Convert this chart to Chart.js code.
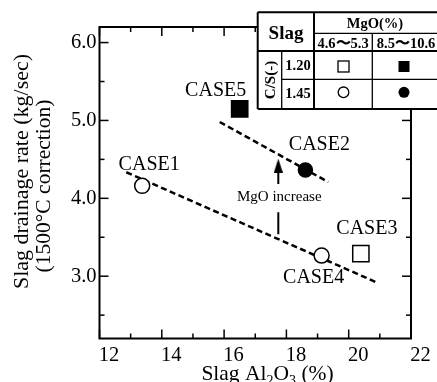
<!DOCTYPE html>
<html><head><meta charset="utf-8">
<script src="https://cdn.jsdelivr.net/npm/chart.js@4/dist/chart.umd.min.js"></script>
<style>html,body{margin:0;padding:0;background:#fff}#wrap{width:437px;height:382px;position:relative}</style>
</head><body><div id="wrap"><canvas id="c" width="437" height="382"></canvas></div>
<script>
// ---- data ----
const caseNames = ['CASE1', 'CASE2', 'CASE3', 'CASE4', 'CASE5'];
const al2o3 = [13.37, 18.61, 20.39, 19.13, 16.50];       // Slag Al2O3 (%)
const drainRate = [4.16, 4.365, 3.29, 3.265, 5.15];     // kg/sec
const caseMarker = ['openCircle', 'filledCircle', 'openSquare', 'openCircle', 'filledSquare'];
const lowerTrendX = [12.86, 20.9];
const lowerTrendY = [4.335, 2.92];
const upperTrendX = [15.86, 19.34];
const upperTrendY = [4.98, 4.21];
const arrowX = 17.74;
const arrowLowerY = [3.54, 3.82];
const arrowUpperY = [4.185, 4.38];
const arrowHeadY = 4.42;
const xTicks = [12, 13, 14, 15, 16, 17, 18, 19, 20, 21, 22];
const yTicks = [2.5, 3.0, 3.5, 4.0, 4.5, 5.0, 5.5, 6.0];
const tableMgO = ['4.6\u301C5.3', '8.5\u301C10.6'];
const tableCS = ['1.20', '1.45'];

const SERIF = "'Liberation Serif', 'DejaVu Serif', serif";
Chart.defaults.font.family = SERIF;
Chart.defaults.color = '#000';

// arrowhead image
const ah = document.createElement('canvas'); ah.width = 9; ah.height = 14;
(function(){ const c = ah.getContext('2d'); c.fillStyle = '#000'; c.beginPath(); c.moveTo(4.5, 0); c.lineTo(9, 14); c.lineTo(0, 14); c.closePath(); c.fill(); })();

const markerStyle = {
  openCircle:   {pointStyle: 'circle', radius: 7.5, bg: '#fff'},
  filledCircle: {pointStyle: 'circle', radius: 7,   bg: '#000'},
  openSquare:   {pointStyle: 'rect',   radius: 11.5, bg: '#fff'},
  filledSquare: {pointStyle: 'rect',   radius: 11.5, bg: '#000'}
};
const pointSets = Object.keys(markerStyle).map(k => {
  const idx = caseNames.map((n, i) => i).filter(i => caseMarker[i] === k);
  const s = markerStyle[k];
  return {
    label: k, data: idx.map(i => ({x: al2o3[i], y: drainRate[i]})),
    showLine: false, pointStyle: s.pointStyle, pointRadius: s.radius,
    pointBackgroundColor: s.bg, pointBorderColor: '#000', pointBorderWidth: 1.5
  };
});
const lineDs = (xs, ys, dash, w) => ({
  data: xs.map((x, i) => ({x, y: ys[i]})), showLine: true, borderColor: '#000',
  borderWidth: w, borderDash: dash, pointRadius: 0, fill: false
});

const decor = {
  id: 'decor',
  afterDatasetsDraw(chart) {
    const ctx = chart.ctx, xs = chart.scales.x, ys = chart.scales.y;
    ctx.save();
    ctx.fillStyle = '#000';
    ctx.textAlign = 'center'; ctx.textBaseline = 'alphabetic';
    ctx.font = '20px ' + SERIF;
    const offs = [[7, -16], [14, -20], [6, -20], [-8, 27], [-24, -13]];
    caseNames.forEach((n, i) => {
      const px = xs.getPixelForValue(al2o3[i]), py = ys.getPixelForValue(drainRate[i]);
      ctx.fillText(n, px + offs[i][0], py + offs[i][1]);
    });
    ctx.font = '15px ' + SERIF;
    ctx.fillText('MgO increase', xs.getPixelForValue(arrowX) + 1, ys.getPixelForValue(4.0) + 3);
    ctx.restore();
  },
  afterDraw(chart) {
    const ctx = chart.ctx, a = chart.chartArea, xs = chart.scales.x, ys = chart.scales.y;
    ctx.save();
    ctx.strokeStyle = '#000';
    const line = (x1, y1, x2, y2) => { ctx.beginPath(); ctx.moveTo(x1, y1); ctx.lineTo(x2, y2); ctx.stroke(); };
    ctx.lineWidth = 1.5;
    xs.ticks.forEach(t => {
      const p = xs.getPixelForValue(t.value), L = (t.value % 2 === 0) ? 9 : 5;
      line(p, a.bottom, p, a.bottom - L); line(p, a.top, p, a.top + L);
    });
    ys.ticks.forEach(t => {
      const p = ys.getPixelForValue(t.value), L = Math.abs(t.value - Math.round(t.value)) < 1e-6 ? 9 : 5;
      line(a.left, p, a.left + L, p); line(a.right, p, a.right - L, p);
    });
    ctx.lineWidth = 2;
    ctx.strokeRect(a.left, a.top, a.right - a.left, a.bottom - a.top);

    // axis titles
    ctx.fillStyle = '#000';
    ctx.textBaseline = 'alphabetic';
    const big = '21.5px ' + SERIF, small = '14px ' + SERIF;
    const parts = [['Slag Al', big, 0], ['2', small, 5], ['O', big, 0], ['3', small, 5], [' (%)', big, 0]];
    let tw = 0; parts.forEach(p => { ctx.font = p[1]; tw += ctx.measureText(p[0]).width; });
    let cx = 267.5 - tw / 2; const base = 380;
    ctx.textAlign = 'left';
    parts.forEach(p => { ctx.font = p[1]; ctx.fillText(p[0], cx, base + p[2]); cx += ctx.measureText(p[0]).width; });
    ctx.textAlign = 'center';
    ctx.font = '22px ' + SERIF;
    ctx.save(); ctx.translate(28, 171.5); ctx.rotate(-Math.PI / 2); ctx.fillText('Slag drainage rate (kg/sec)', 0, 0); ctx.restore();
    ctx.font = '21.5px ' + SERIF;
    ctx.save(); ctx.translate(50, 186); ctx.rotate(-Math.PI / 2); ctx.fillText('(1500\u00B0C correction)', 0, 0); ctx.restore();

    // legend table
    const L0 = 257.7, T0 = 12.3, B0 = 109, R0 = 445;
    ctx.fillStyle = '#fff'; ctx.fillRect(L0, T0, R0 - L0, B0 - T0);
    ctx.lineWidth = 2;
    line(L0, T0, R0, T0); line(L0, 51, R0, 51); line(L0, B0, R0, B0);
    line(L0, T0, L0, B0); line(314, T0, 314, B0);
    ctx.lineWidth = 1.3;
    line(314, 33.3, R0, 33.3); line(281.7, 79.3, R0, 79.3);
    line(281.7, 51, 281.7, B0); line(372.3, 33.3, 372.3, B0);
    ctx.fillStyle = '#000'; ctx.textAlign = 'center';
    ctx.font = 'bold 19px ' + SERIF; ctx.fillText('Slag', 286, 38.5);
    ctx.font = 'bold 14.5px ' + SERIF; ctx.fillText('MgO(%)', 375, 28);
    ctx.fillText(tableMgO[0], 343, 48); ctx.fillText(tableMgO[1], 406, 48);
    ctx.fillText(tableCS[0], 298, 70); ctx.fillText(tableCS[1], 298, 98);
    ctx.save(); ctx.translate(269.7, 80); ctx.rotate(-Math.PI / 2); ctx.textBaseline = 'middle';
    ctx.font = 'bold 15px ' + SERIF; ctx.fillText('C/S(-)', 0, 1); ctx.restore();
    ctx.lineWidth = 1.3;
    ctx.strokeRect(338, 61, 11, 11);
    ctx.fillRect(398.5, 61, 11, 11);
    ctx.beginPath(); ctx.arc(343.5, 92.3, 5.3, 0, Math.PI * 2); ctx.stroke();
    ctx.beginPath(); ctx.arc(404, 92.3, 5.5, 0, Math.PI * 2); ctx.fill();
    ctx.restore();
  }
};

new Chart(document.getElementById('c'), {
  type: 'scatter',
  data: {
    datasets: [
      ...pointSets,
      {data: [{x: arrowX, y: arrowHeadY}], showLine: false, pointStyle: ah, pointRadius: 7},
      lineDs([arrowX, arrowX], arrowUpperY, [], 2),
      lineDs([arrowX, arrowX], arrowLowerY, [], 2),
      lineDs(lowerTrendX, lowerTrendY, [6, 3.5], 2.5),
      lineDs(upperTrendX, upperTrendY, [6, 3.5], 2.5)
    ]
  },
  options: {
    responsive: false, animation: false, events: [],
    layout: {padding: {top: 27, right: 26, left: 0, bottom: 0}},
    plugins: {legend: {display: false}, tooltip: {enabled: false}},
    scales: {
      x: {
        type: 'linear', min: 12, max: 22,
        afterBuildTicks: s => { s.ticks = xTicks.map(v => ({value: v})); },
        afterFit: s => { s.height = 43.5; },
        grid: {display: false, drawTicks: false}, border: {display: false},
        ticks: {autoSkip: false, maxRotation: 0, padding: 5, labelOffset: 9.5,
                font: {size: 20.5, family: SERIF}, color: '#000',
                callback: v => (v % 2 === 0 ? String(v) : '')}
      },
      y: {
        type: 'linear', min: 2.2, max: 6.2,
        afterBuildTicks: s => { s.ticks = yTicks.map(v => ({value: v})); },
        afterFit: s => { s.width = 99.5; },
        grid: {display: false, drawTicks: false}, border: {display: false},
        ticks: {autoSkip: false, padding: 3, font: {size: 20.5, family: SERIF}, color: '#000',
                callback: v => (Math.abs(v - Math.round(v)) < 1e-6 ? v.toFixed(1) : '')}
      }
    }
  },
  plugins: [decor]
});
</script></body></html>
